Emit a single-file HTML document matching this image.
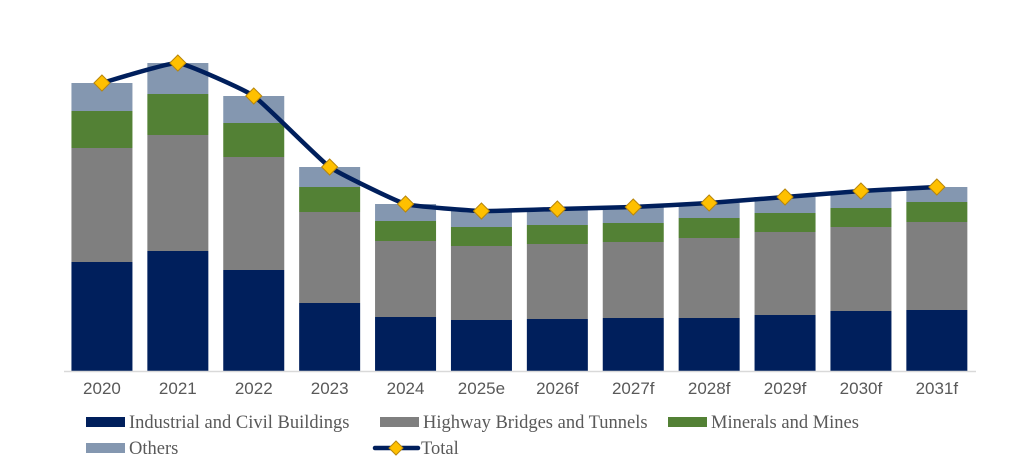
<!DOCTYPE html>
<html><head><meta charset="utf-8"><style>
html,body{margin:0;padding:0;background:#fff;}
svg{display:block;}
.ax{font-family:"Liberation Sans",sans-serif;font-size:17px;fill:#595959;}
.lg{font-family:"Liberation Serif",serif;font-size:18.5px;fill:#595959;}
</style></head><body>
<svg id="chart" width="1015" height="472" viewBox="0 0 1015 472"></svg>
<script>
const categories=["2020","2021","2022","2023","2024","2025e","2026f","2027f","2028f","2029f","2030f","2031f"];
const industrial=[109,120,101,68,54,51,52,53,53,56,60,61];
const highway=[114,116,113,91,76,74,75,76,80,83,84,88];
const minerals=[37,41,34,25,20,19,19,19,20,19,19,20];
const others=[28,31,27,20,17,16,16,16,15,16,17,15];
const seriesNames=["Industrial and Civil Buildings","Highway Bridges and Tunnels","Minerals and Mines","Others"];
const colors=["#001f5c","#7f7f7f","#538135","#8497b0"];
const NS="http://www.w3.org/2000/svg";
const svg=document.getElementById('chart');
const baseY=371, x0=64, pitch=75.9, barW=61;
function xc(i){return x0+pitch*(i+0.5);}
function yv(v){return baseY-v;}
function mk(t,a){const e=document.createElementNS(NS,t);for(const k in a)e.setAttribute(k,a[k]);svg.appendChild(e);return e;}
const series=[industrial,highway,minerals,others];
const totals=categories.map((c,i)=>series.reduce((s,a)=>s+a[i],0));
categories.forEach((c,i)=>{
  let acc=0;
  series.forEach((s,k)=>{
    const r=mk('rect',{x:xc(i)-barW/2,y:yv(acc+s[i]),width:barW,height:s[i],fill:colors[k]});
    
    
    acc+=s[i];
  });
  const t=mk('text',{x:xc(i),y:394,'text-anchor':'middle',class:'ax'});t.textContent=c;
  
  
});
const axis=mk('line',{x1:64,x2:976,y1:baseY+0.5,y2:baseY+0.5,stroke:'#d9d9d9','stroke-width':1.5});


const pts=totals.map((v,i)=>[xc(i),yv(v)]);
let d='M'+pts[0][0]+','+pts[0][1];
const tn=0.06;
for(let i=0;i<pts.length-1;i++){
  const p0=pts[Math.max(0,i-1)],p1=pts[i],p2=pts[i+1],p3=pts[Math.min(pts.length-1,i+2)];
  const c1=[p1[0]+(p2[0]-p0[0])*tn,p1[1]+(p2[1]-p0[1])*tn];
  const c2=[p2[0]-(p3[0]-p1[0])*tn,p2[1]-(p3[1]-p1[1])*tn];
  d+=' C'+c1+' '+c2+' '+p2;
}
const line=mk('path',{d:d,fill:'none',stroke:'#001f5c','stroke-width':4.5,'stroke-linejoin':'round'});


pts.forEach((p,i)=>{
  const m=mk('path',{d:`M${p[0]},${p[1]-8} L${p[0]+8},${p[1]} L${p[0]},${p[1]+8} L${p[0]-8},${p[1]} Z`,fill:'#ffc000',stroke:'#b8860b','stroke-width':1});
  
  
});
const leg=[[86,422,0],[380,422,1],[668,422,2],[86,448,3]];
leg.forEach(([x,y,k])=>{
  const r=mk('rect',{x:x,y:y-5,width:39,height:10,fill:colors[k]});
  
  
  const t=mk('text',{x:x+43,y:y+6,class:'lg'});t.textContent=seriesNames[k];
  
  
});
const ll=mk('line',{x1:375,x2:418,y1:448,y2:448,stroke:'#001f5c','stroke-width':4.5,'stroke-linecap':'round'});


const ld=mk('path',{d:'M396,441 L403,448 L396,455 L389,448 Z',fill:'#ffc000',stroke:'#b8860b','stroke-width':1});


const lt=mk('text',{x:421,y:454,class:'lg'});lt.textContent='Total';


</script>
</body></html>
